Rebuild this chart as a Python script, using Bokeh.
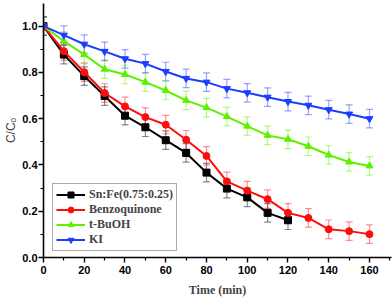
from bokeh.plotting import figure
from bokeh.models import (Whisker, ColumnDataSource, Legend, LegendItem, Range1d,
                          FixedTicker, NumeralTickFormatter, TeeHead)
from bokeh.embed import file_html
from bokeh.resources import INLINE

# ---- data ----
time_snfe = [0, 10, 20, 30, 40, 50, 60, 70, 80, 90, 100, 110, 120]
snfe = [1.0, 0.877, 0.784, 0.698, 0.613, 0.563, 0.507, 0.452, 0.367, 0.298, 0.260, 0.193, 0.161]
snfe_err = [0.04, 0.04, 0.04, 0.04, 0.04, 0.04, 0.04, 0.04, 0.04, 0.04, 0.04, 0.04, 0.04]

time_all = [0, 10, 20, 30, 40, 50, 60, 70, 80, 90, 100, 110, 120, 130, 140, 150, 160]
bq = [1.0, 0.892, 0.801, 0.711, 0.653, 0.607, 0.574, 0.509, 0.439, 0.329, 0.289, 0.252,
      0.193, 0.171, 0.122, 0.114, 0.101]
bq_err = [0.04, 0.04, 0.04, 0.04, 0.04, 0.04, 0.04, 0.04, 0.04, 0.04, 0.04, 0.04,
          0.04, 0.04, 0.04, 0.04, 0.04]
tbuoh = [1.0, 0.935, 0.877, 0.814, 0.791, 0.758, 0.722, 0.679, 0.648, 0.609, 0.568, 0.528,
         0.511, 0.481, 0.443, 0.413, 0.396]
tbuoh_err = [0.04, 0.04, 0.04, 0.04, 0.04, 0.04, 0.04, 0.04, 0.04, 0.04, 0.04, 0.04,
             0.04, 0.04, 0.04, 0.04, 0.04]
ki = [1.0, 0.961, 0.922, 0.891, 0.859, 0.838, 0.804, 0.774, 0.758, 0.730, 0.712, 0.693,
      0.674, 0.658, 0.639, 0.620, 0.600]
ki_err = [0.04, 0.04, 0.04, 0.04, 0.04, 0.04, 0.04, 0.04, 0.04, 0.04, 0.04, 0.04,
          0.04, 0.04, 0.04, 0.04, 0.04]

labels = ["Sn:Fe(0.75:0.25)", "Benzoquinone", "t-BuOH", "KI"]
colors = ["#000000", "#ff0d0d", "#5ef000", "#1c3cff"]
markers = ["square", "circle", "triangle", "inverted_triangle"]
x_major = [0, 20, 40, 60, 80, 100, 120, 140, 160]
x_minor = [10, 30, 50, 70, 90, 110, 130, 150, 170]
y_major = [0.0, 0.2, 0.4, 0.6, 0.8, 1.0]
y_minor = [0.1, 0.3, 0.5, 0.7, 0.9]

p = figure(width=392, height=299, output_backend="svg", toolbar_location=None,
           x_range=Range1d(0, 170.8), y_range=Range1d(0, 1.098),
           min_border_left=43, min_border_right=1, min_border_top=3, min_border_bottom=42)
p.xgrid.visible = False
p.ygrid.visible = False
p.outline_line_color = None
p.background_fill_color = "white"
p.border_fill_color = "white"

for ax in (p.xaxis[0], p.yaxis[0]):
    ax.axis_line_width = 1.6
    ax.major_tick_line_width = 1.4
    ax.minor_tick_line_width = 1.2
    ax.major_tick_out = 5
    ax.major_tick_in = 0
    ax.minor_tick_out = 3
    ax.minor_tick_in = 0
    ax.major_label_text_font = "Liberation Sans"
    ax.major_label_text_font_style = "bold"
    ax.major_label_text_font_size = "11px"
    ax.major_label_text_color = "black"

p.xaxis[0].major_label_standoff = 3
p.xaxis[0].axis_label_standoff = 6
p.yaxis[0].major_label_standoff = 1
p.yaxis[0].axis_label_standoff = 1

p.xaxis[0].ticker = FixedTicker(ticks=x_major, minor_ticks=x_minor)
p.yaxis[0].ticker = FixedTicker(ticks=y_major, minor_ticks=y_minor)
p.yaxis[0].formatter = NumeralTickFormatter(format="0.0")
p.xaxis[0].axis_label = "Time (min)"
p.xaxis[0].axis_label_text_font = "Liberation Serif"
p.xaxis[0].axis_label_text_font_style = "bold"
p.xaxis[0].axis_label_text_font_size = "12px"
p.yaxis[0].axis_label = "C/C\u2092"
p.yaxis[0].axis_label_text_font = "Liberation Sans"
p.yaxis[0].axis_label_text_font_style = "normal"
p.yaxis[0].axis_label_text_font_size = "12px"

series = [(time_snfe, snfe, snfe_err), (time_all, bq, bq_err),
          (time_all, tbuoh, tbuoh_err), (time_all, ki, ki_err)]

items = []
for (xs, ys, es), lab, col, mk in zip(series, labels, colors, markers):
    src = ColumnDataSource(dict(x=xs, y=ys,
                                lo=[y - e for y, e in zip(ys, es)],
                                hi=[y + e for y, e in zip(ys, es)]))
    w = Whisker(source=src, base="x", lower="lo", upper="hi",
                line_color=col, line_alpha=0.45, line_width=1.2,
                upper_head=TeeHead(size=7, line_color=col, line_alpha=0.45, line_width=1.2),
                lower_head=TeeHead(size=7, line_color=col, line_alpha=0.45, line_width=1.2))
    p.add_layout(w)
    lr = p.line("x", "y", source=src, line_color=col, line_width=2)
    mr = p.scatter("x", "y", source=src, marker=mk, size=7, fill_color=col, line_color=col)
    items.append(LegendItem(label=lab, renderers=[lr, mr]))

legend = Legend(items=items, location=(9, 6))
legend.border_line_color = "#555555"
legend.border_line_width = 1
legend.background_fill_color = "white"
legend.background_fill_alpha = 1
legend.label_text_font = "Liberation Serif"
legend.label_text_font_style = "bold"
legend.label_text_font_size = "12px"
legend.glyph_width = 29
legend.glyph_height = 15
legend.label_height = 15
legend.spacing = 0
legend.padding = 3
legend.margin = 0
legend.label_standoff = 4
p.add_layout(legend)

open("out.html", "w").write(file_html(p, INLINE))
